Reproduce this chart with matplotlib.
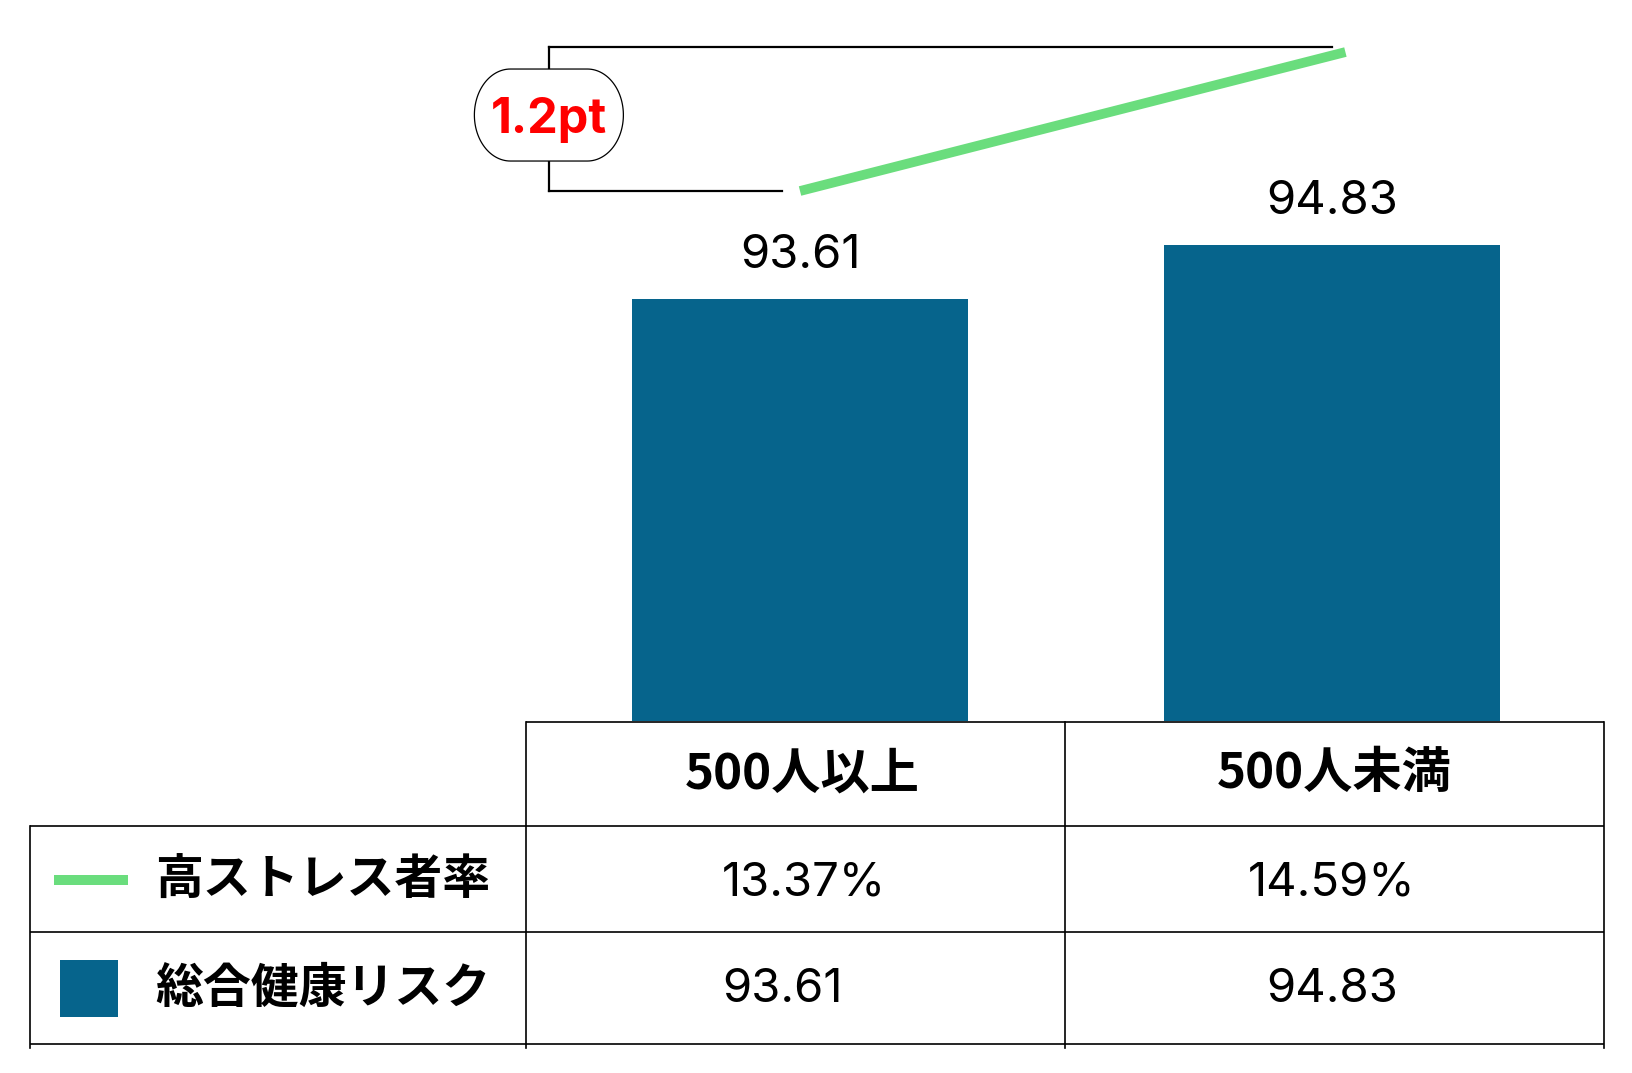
import matplotlib
matplotlib.use("Agg")
import numpy as np
import matplotlib.pyplot as plt
from matplotlib.patches import Rectangle, Polygon

# ---- data ----
categories = ["500人以上", "500人未満"]
health_risk = [93.61, 94.83]          # 総合健康リスク (bars)
high_stress = [13.37, 14.59]          # 高ストレス者率 (%) (line)
series_names = ["高ストレス者率", "総合健康リスク"]
health_labels = ["93.61", "94.83"]
stress_labels = ["13.37%", "14.59%"]

BAR_COLOR = "#06648C"
LINE_COLOR = "#6ADD7D"
W, H = 1633, 1073
JP = ["Noto Sans CJK JP", "DejaVu Sans"]
NUM = ["Inter", "Noto Sans CJK JP", "DejaVu Sans"]

fig = plt.figure(figsize=(W / 100, H / 100), dpi=100)
fig.patch.set_facecolor("white")

# main chart area (above the table)
ax = fig.add_axes([526 / W, 1 - 721 / H, (1604 - 526) / W, 721 / H])
ax.set_xlim(-0.515, 1.511)
ax.set_ylim(84.075, 100.365)
ax.axis("off")
xpos = list(range(len(categories)))
ax.bar(xpos, health_risk, width=0.632, color=BAR_COLOR, zorder=2)
for x, v, lab in zip(xpos, health_risk, health_labels):
    ax.annotate(lab, (x, v), xytext=(0, 31), textcoords="offset pixels",
                ha="center", va="baseline", fontsize=34, family=NUM)

ax2 = ax.twinx()
ax2.set_xlim(-0.515, 1.511)
ax2.set_ylim(8.717, 15.047)
ax2.axis("off")
ax2.plot([xpos[0], xpos[1] + 0.025], [high_stress[0], high_stress[1]],
         color=LINE_COLOR, lw=7, solid_capstyle="butt", zorder=3)

# bracket showing difference
diff = high_stress[1] - high_stress[0]
top = high_stress[1] + 0.044
bot = high_stress[0]
xv = -0.472
ax2.plot([xv, 1.0], [top, top], color="black", lw=1.6, zorder=2)
ax2.plot([xv, xv], [bot, top], color="black", lw=1.6, zorder=2)
ax2.plot([xv, -0.034], [bot, bot], color="black", lw=1.6, zorder=2)

# pixel overlay for table / legend / pill
ov = fig.add_axes([0, 0, 1, 1])
ov.set_xlim(0, W)
ov.set_ylim(H, 0)
ov.axis("off")
ov.patch.set_alpha(0)

# pill with difference label (straight top/bottom, elliptical ends)
dx, dy = ax2.transData.transform((xv, (top + bot) / 2))
cx, cy = dx, H - dy - 4
pw, ph = 149, 92
rx, ry = 36, ph / 2
t = np.linspace(-np.pi / 2, np.pi / 2, 60)
right = np.column_stack([cx + pw / 2 - rx + rx * np.cos(t), cy + ry * np.sin(t)])
left = np.column_stack([cx - pw / 2 + rx - rx * np.cos(t), cy - ry * np.sin(t)])
pill = Polygon(np.vstack([right, left]), closed=True, facecolor="white",
               edgecolor="black", lw=0.9, zorder=5)
ov.add_patch(pill)
ov.text(cx, cy, f"{diff:.1f}pt", color="#FF0000", fontsize=35, fontweight="bold",
        family=NUM, ha="center", va="center_baseline", zorder=6)

# table lines
lw_t = 1.2
for y, x0 in [(722, 526), (826, 30), (932, 30), (1044, 30)]:
    ov.plot([x0, 1604], [y, y], color="black", lw=lw_t, solid_capstyle="butt")
ov.plot([30, 30], [826, 1048], color="black", lw=lw_t)
for x in [526, 1065, 1604]:
    ov.plot([x, x], [722, 1048], color="black", lw=lw_t)

# header row
col_centers = [ax.transData.transform((x, 0))[0] for x in xpos]
for c, cat in zip(col_centers, categories):
    ov.text(c + 2, 774, cat, fontsize=35.5, fontweight="bold", family=JP,
            ha="center", va="center")

# legend column
ov.plot([54, 128], [880, 880], color=LINE_COLOR, lw=7.2, solid_capstyle="butt")
ov.add_patch(Rectangle((60, 960), 58, 57, facecolor=BAR_COLOR, edgecolor="none"))
ov.text(155, 880, series_names[0], fontsize=34.5, fontweight="bold", family=JP,
        ha="left", va="center")
ov.text(155, 988, series_names[1], fontsize=34.5, fontweight="bold", family=JP,
        ha="left", va="center")

# value cells
for i, c in enumerate(col_centers):
    if i == 0:
        ov.text(722, 883, stress_labels[i], fontsize=34, family=NUM, ha="left", va="center")
        ov.text(722, 990, health_labels[i], fontsize=34, family=NUM, ha="left", va="center")
    else:
        ov.text(c, 883, stress_labels[i], fontsize=34, family=NUM, ha="center", va="center")
        ov.text(c, 990, health_labels[i], fontsize=34, family=NUM, ha="center", va="center")

fig.savefig("out.png", dpi=100, facecolor="white")
